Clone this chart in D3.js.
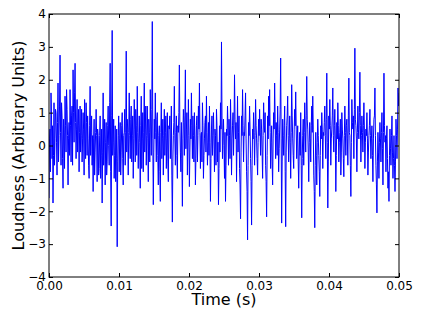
<!DOCTYPE html>
<html>
<head>
<meta charset="utf-8">
<script src="https://cdn.jsdelivr.net/npm/d3@7"></script>
<style>
html,body{margin:0;padding:0;background:#fff;}
svg{display:block;}
text{font-family:"DejaVu Sans",sans-serif;fill:#000;}
</style>
</head>
<body>
<svg id="c" width="422" height="317"></svg>
<script>
const loudness = [
-1.6,0.2,0.5,-0.8,1.6,0.9,-0.4,0.6,-1.75,-0.3,1.3,-0.6,0.2,1.1,1.0,0.1,-0.9,0.7,1.9,-0.5,
0.3,1.2,2.75,0.4,-0.6,1.3,0.9,-0.4,-1.3,0.8,0.4,-0.7,1.5,0.6,-0.2,1.7,1.1,0.3,-1.2,0.2,
0.7,-0.3,1.7,0.6,-0.5,0.9,1.2,-0.6,2.3,1.0,0.1,1.6,2.5,0.7,-0.4,0.5,1.4,-0.2,0.6,1.1,
-0.8,0.4,1.2,-0.2,0.3,1.1,-0.5,0.2,1.0,0.5,-0.9,1.4,0.5,-0.4,1.3,0.7,-0.3,0.9,0.2,-0.6,
-1.0,0.6,1.8,-0.3,0.4,0.9,-0.6,0.3,-1.4,0.2,0.8,-0.9,-0.2,0.4,1.1,0.3,-1.1,0.5,0.3,-0.9,
-0.7,0.3,0.9,-1.0,-0.3,0.5,-1.75,-0.2,1.6,-0.6,0.2,0.8,-1.2,0.1,0.7,-0.9,-0.5,0.6,1.2,0.0,
-0.6,1.3,2.5,-0.8,-2.45,0.9,3.5,-0.3,0.1,0.8,-1.0,-0.3,0.6,-1.1,-0.4,0.5,-3.08,-0.5,0.3,0.9,
-0.8,0.2,0.7,-0.9,-0.2,0.6,1.0,-0.4,-1.2,0.3,0.4,1.1,-0.6,0.4,2.87,-0.2,0.8,0.5,-0.9,0.4,
1.6,0.3,-0.4,0.8,1.2,-0.5,0.3,0.9,-1.0,0.2,1.4,0.5,-0.5,1.1,0.6,-0.3,1.8,0.4,-0.7,0.2,
0.9,0.1,-1.3,0.6,1.5,-0.7,0.2,1.0,-0.8,0.4,1.9,-0.2,0.5,1.2,-0.6,0.3,1.2,0.2,-1.1,0.8,
0.4,-0.5,1.7,0.5,-0.3,1.1,3.77,0.2,-1.8,-0.2,0.8,0.2,1.6,0.4,-0.5,0.8,1.0,-0.3,-1.2,0.3,
0.6,-0.8,-1.7,0.4,1.3,-0.4,0.2,0.8,-0.9,0.3,1.1,-0.3,0.4,0.9,-0.7,0.2,1.0,-0.5,-1.1,0.6,
0.5,0.9,-0.4,0.2,1.2,-0.9,-2.33,-0.5,0.3,0.7,1.8,0.2,-0.6,0.4,0.9,-0.3,-1.0,0.6,0.4,1.0,
2.45,0.6,-0.2,-0.8,0.7,-0.4,-1.85,0.2,1.1,0.7,-0.3,0.9,2.3,-0.1,0.5,1.0,-0.9,0.2,1.4,0.3,
-1.25,-0.2,0.8,0.2,1.6,0.6,-0.4,0.9,0.3,-0.5,1.0,0.2,-1.2,-0.4,0.6,0.9,-0.5,0.3,1.2,0.5,
1.9,0.4,-0.7,0.3,0.4,-0.5,1.3,0.6,-1.0,-0.3,0.2,0.7,0.9,-0.2,1.5,0.4,-0.6,0.1,0.7,-0.3,
1.2,0.1,-1.7,-0.4,0.5,0.9,-0.3,0.3,1.0,0.2,-0.8,0.5,0.3,-0.6,1.1,0.6,-0.5,0.1,-1.8,-0.7,
0.6,-0.2,1.3,0.5,3.15,0.9,-0.4,0.3,0.8,0.0,-1.0,0.4,-1.7,-0.6,0.5,0.3,1.2,0.6,-0.6,0.8,
0.3,-0.4,1.4,0.5,-0.9,0.2,0.6,1.0,-0.3,0.6,2.15,0.8,0.2,0.7,-1.1,0.2,1.5,-0.2,0.4,0.9,
-0.7,-1.2,-2.23,-0.2,0.9,0.3,1.7,0.6,-0.5,0.4,0.3,0.9,1.6,0.2,-0.8,-1.4,-2.87,-0.6,0.7,0.3,
1.2,0.5,-0.4,-1.1,-2.42,-0.6,0.5,0.2,1.0,0.4,-0.6,0.3,1.4,0.6,0.2,-0.4,-0.9,0.1,0.8,0.3,
1.1,0.4,-0.3,0.8,0.5,-0.2,-1.0,0.3,1.3,0.6,0.4,1.0,-0.6,-1.1,-2.17,-0.3,0.9,0.2,1.5,0.6,
1.7,0.4,-0.7,0.1,0.6,-0.5,-1.2,0.2,1.0,0.5,1.9,0.8,-0.4,0.7,0.3,-0.3,1.2,0.4,-0.8,-0.1,
0.5,1.1,2.66,0.2,-2.36,-0.5,0.8,0.3,-0.3,0.6,1.2,-0.8,-2.47,-0.2,0.6,0.9,1.5,0.3,-0.5,0.2,
0.9,0.1,-1.0,0.4,1.85,0.9,0.2,-0.3,-0.7,0.5,1.1,0.6,1.63,0.5,-0.4,0.2,0.6,-0.5,-1.3,-0.2,
0.4,-0.3,1.0,-0.6,-2.2,-0.4,0.3,0.8,-0.6,0.4,1.3,0.5,-0.2,0.9,2.1,0.8,0.5,-0.2,-1.1,0.1,
0.7,0.2,-0.5,0.6,1.2,0.4,1.5,0.5,-0.9,-1.4,-2.5,-0.6,0.4,-0.3,-1.2,0.1,0.8,0.3,-0.3,-0.8,
-1.55,-0.3,0.6,0.2,1.0,0.5,-0.7,0.4,0.3,0.7,1.2,0.3,-0.4,0.8,2.2,0.1,-1.9,-0.5,0.9,0.5,
1.4,0.6,-0.6,0.2,0.5,0.9,1.75,0.3,-0.2,0.6,1.1,0.2,-1.4,-0.3,0.7,0.2,1.3,0.6,-0.5,0.1,
0.4,0.8,-0.9,-0.2,1.0,0.5,0.2,-0.4,-0.95,0.3,1.2,0.4,-0.3,0.6,0.8,0.2,-0.6,0.9,2.05,0.4,
0.3,-0.6,-1.55,0.1,1.4,0.7,0.5,0.9,-0.4,1.1,2.96,0.8,0.6,0.2,-0.8,0.4,1.2,0.5,0.2,1.0,
2.23,0.6,-0.5,0.3,0.9,0.4,-0.2,0.6,1.3,0.5,-0.7,0.1,0.5,0.3,1.0,0.2,-0.9,-0.2,0.3,0.6,
1.1,0.3,-0.4,0.2,0.6,-0.3,-1.1,0.2,0.8,0.9,1.75,0.3,-0.6,-1.2,-2.05,-0.5,0.4,-0.2,-1.0,0.1,
0.7,0.2,-0.5,0.4,1.0,-0.1,-1.2,0.4,2.2,0.6,0.1,0.3,-0.8,0.2,0.6,-0.4,-1.3,-0.8,-1.7,-0.3,
0.5,-0.1,-0.6,0.3,0.9,-0.2,-1.0,-0.4,0.3,-0.6,-1.4,-0.5,0.8,0.3,-0.4,0.5,1.75,1.2,1.6
];
const duration = 0.05;
const xTicks = [0, 0.01, 0.02, 0.03, 0.04, 0.05];
const xTickLabels = ["0.00","0.01","0.02","0.03","0.04","0.05"];
const yTicks = [-4,-3,-2,-1,0,1,2,3,4];
const yTickLabels = ["\u22124","\u22123","\u22122","\u22121","0","1","2","3","4"];
const xTitle = "Time (s)";
const yTitle = "Loudness (Arbitrary Units)";

const svg = d3.select("#c");
const L = 49, R = 399, T = 14, B = 277;
const x = d3.scaleLinear().domain([0, duration]).range([L, R]);
const y = d3.scaleLinear().domain([-4, 4]).range([B, T]);
const n = loudness.length;
const times = d3.range(n).map(i => i * duration / (n - 1));

svg.append("rect").attr("width",422).attr("height",317).attr("fill","#fff");

svg.append("defs").append("clipPath").attr("id","clip")
  .append("rect").attr("x",L).attr("y",T).attr("width",R-L).attr("height",B-T);

svg.append("path")
  .datum(loudness)
  .attr("clip-path","url(#clip)")
  .attr("fill","none")
  .attr("stroke","#0000ff")
  .attr("stroke-width",1)
  .attr("stroke-linejoin","round")
  .attr("d", d3.line().x((d,i)=>x(times[i])).y(d=>y(d)));

// axes with inward ticks (all four sides)
const tl = 4;
const gB = svg.append("g").attr("transform",`translate(0,${B})`)
  .call(d3.axisBottom(x).tickValues(xTicks).tickFormat((d,i)=>xTickLabels[i]).tickSizeInner(-tl).tickSizeOuter(0).tickPadding(4));
const gT = svg.append("g").attr("transform",`translate(0,${T})`)
  .call(d3.axisTop(x).tickValues(xTicks).tickFormat("").tickSizeInner(-tl).tickSizeOuter(0));
const gL = svg.append("g").attr("transform",`translate(${L},0)`)
  .call(d3.axisLeft(y).tickValues(yTicks).tickFormat((d,i)=>yTickLabels[i]).tickSizeInner(-tl).tickSizeOuter(0).tickPadding(3));
const gR = svg.append("g").attr("transform",`translate(${R},0)`)
  .call(d3.axisRight(y).tickValues(yTicks).tickFormat("").tickSizeInner(-tl).tickSizeOuter(0));
[gB,gT,gL,gR].forEach(g=>{
  g.select(".domain").remove();
  g.selectAll("line").attr("stroke","#000");
  g.selectAll("text").style("font-family","'DejaVu Sans',sans-serif").style("font-size","12px").attr("fill","#000");
});

svg.append("rect").attr("x",L).attr("y",T).attr("width",R-L).attr("height",B-T)
  .attr("fill","none").attr("stroke","#000").attr("stroke-width",1);

svg.append("text").attr("x",(L+R)/2).attr("y",305).attr("text-anchor","middle")
  .style("font-size","16px").text(xTitle);
svg.append("text").attr("transform",`translate(24,${(T+B)/2}) rotate(-90)`).attr("text-anchor","middle")
  .style("font-size","16px").text(yTitle);
</script>
</body>
</html>
